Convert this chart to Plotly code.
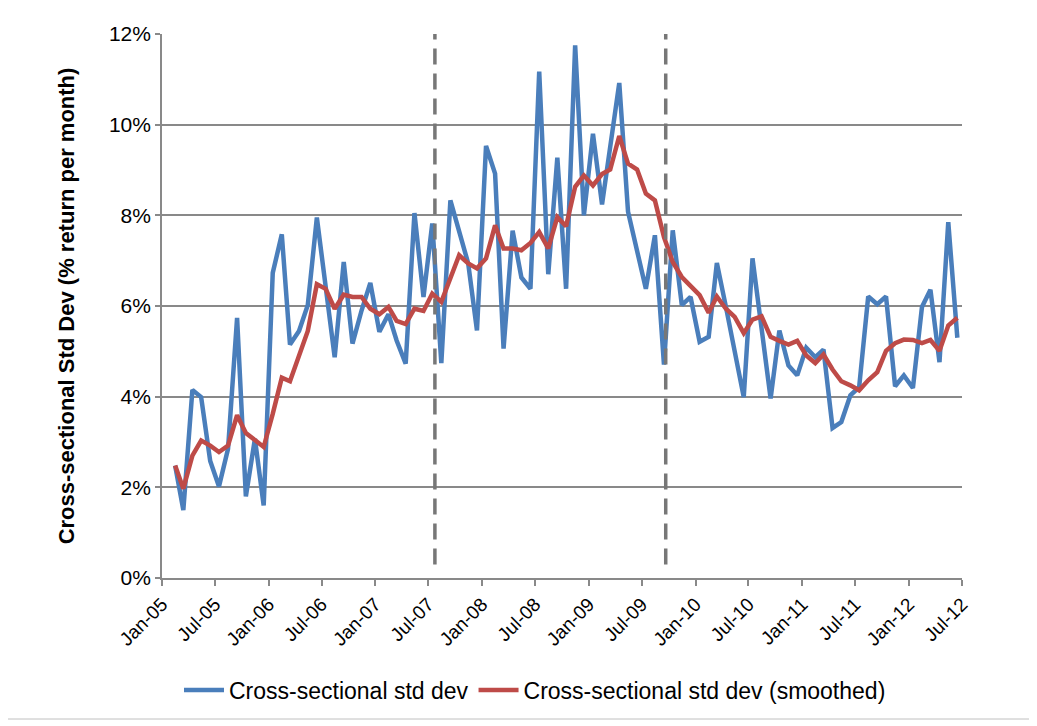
import pandas as pd
import plotly.graph_objects as go

# Monthly observations, Feb-2005 .. Jun-2012 (plotted at mid-month)
months = [d + pd.Timedelta(days=14) for d in pd.date_range("2005-02-01", periods=89, freq="MS")]

std_dev = [
    2.48, 1.50, 4.15, 3.99, 2.58, 2.02, 2.85, 5.74, 1.80, 3.07, 1.60,
    6.73, 7.58, 5.15, 5.45, 6.02, 7.95, 6.40, 4.87, 6.97, 5.17, 5.90, 6.51,
    5.43, 5.82, 5.24, 4.73, 8.05, 6.20, 7.82, 4.74, 8.33, 7.67, 6.94, 5.46,
    9.53, 8.92, 5.06, 7.66, 6.63, 6.38, 11.17, 6.70, 9.27, 6.38, 11.75, 8.00,
    9.80, 8.24, 9.60, 10.92, 8.08, 7.23, 6.38, 7.56, 4.71, 7.67, 6.02, 6.20,
    5.21, 5.32, 6.95, 5.98, 4.98, 3.99, 7.05, 5.55, 3.96, 5.46, 4.69, 4.47,
    5.08, 4.87, 5.04, 3.31, 3.44, 4.03, 4.21, 6.21, 6.04, 6.21, 4.23, 4.47,
    4.19, 5.98, 6.36, 4.76, 7.85, 5.30,
]

std_dev_smoothed = [
    2.48, 1.97, 2.70, 3.03, 2.92, 2.78, 2.92, 3.59, 3.20, 3.03, 2.89,
    3.62, 4.42, 4.34, 4.90, 5.45, 6.48, 6.38, 5.94, 6.25, 6.20, 6.20, 5.94,
    5.82, 5.98, 5.67, 5.60, 5.94, 5.89, 6.27, 6.09, 6.60, 7.12, 6.94, 6.83,
    7.05, 7.78, 7.27, 7.27, 7.23, 7.39, 7.63, 7.27, 7.96, 7.76, 8.63, 8.88,
    8.66, 8.91, 9.01, 9.75, 9.14, 9.01, 8.48, 8.33, 7.52, 6.97, 6.64, 6.44,
    6.24, 5.85, 6.21, 5.94, 5.76, 5.40, 5.70, 5.77, 5.32, 5.23, 5.15, 5.23,
    4.91, 4.74, 4.93, 4.60, 4.34, 4.25, 4.14, 4.36, 4.54, 5.01, 5.18, 5.26,
    5.25, 5.18, 5.25, 5.01, 5.57, 5.74,
]

event_dates = ["2007-07-24", "2009-09-21"]
y_ticks = [0, 2, 4, 6, 8, 10, 12]
y_tick_labels = ["0%", "2%", "4%", "6%", "8%", "10%", "12%"]

FONT = "Liberation Sans, Arial, sans-serif"
GRID = "#898989"

# page body has an 8px margin: figure is 1029x718 placed at (8,8)
W, H = 1029, 718
ML, MR, MT, MB = 154, 75, 26, 148
PW, PH = W - ML - MR, H - MT - MB

fig = go.Figure()
fig.add_trace(go.Scatter(
    x=months, y=std_dev, mode="lines", name="Cross-sectional std dev",
    line=dict(color="#4A7EBB", width=4.5),
))
fig.add_trace(go.Scatter(
    x=months, y=std_dev_smoothed, mode="lines", name="Cross-sectional std dev (smoothed)",
    line=dict(color="#BE4B48", width=4.5),
))

for d in event_dates:
    fig.add_shape(type="line", xref="x", yref="paper", x0=d, x1=d, y0=0.025, y1=1.0,
                  line=dict(color="#777777", width=3.5, dash="16px,9px"), layer="above")

# outer chart border (page coords converted to paper coords)
def px(xp):
    return (xp - 8 - ML) / PW

def py(yp):
    return (H - MB - (yp - 8)) / PH

fig.add_shape(type="rect", xref="paper", yref="paper",
              x0=px(7.5), x1=px(1030), y0=py(719), y1=py(-5),
              line=dict(color="#c0c0c0", width=1), fillcolor="rgba(0,0,0,0)", layer="below")

fig.update_layout(
    width=W, height=H,
    margin=dict(l=ML, r=MR, t=MT, b=MB),
    paper_bgcolor="white", plot_bgcolor="white",
    font=dict(family=FONT, size=20, color="black"),
    showlegend=True,
    legend=dict(orientation="h", x=px(535), xanchor="center", y=py(690), yanchor="middle",
                font=dict(size=23), itemwidth=40, tracegroupgap=0),
    xaxis=dict(
        type="date", range=["2005-01-01", "2012-07-01"],
        tick0="2005-01-01", dtick="M6", tickformat="%b-%y", tickangle=-45,
        showgrid=False, showline=True, linecolor=GRID, linewidth=1.7,
        ticks="outside", ticklen=6, tickcolor=GRID, tickwidth=1.7,
        tickfont=dict(size=19), zeroline=False,
    ),
    yaxis=dict(
        range=[0, 12], tickvals=y_ticks, ticktext=y_tick_labels,
        showgrid=True, gridcolor=GRID, gridwidth=1.7,
        showline=True, linecolor=GRID, linewidth=1.7,
        ticks="outside", ticklen=5, tickcolor=GRID, tickwidth=1.7,
        tickfont=dict(size=21), zeroline=False,
        title=dict(text="<b>Cross-sectional Std Dev (% return per month)</b>",
                   font=dict(size=22), standoff=28),
    ),
)

fig.write_html("out.html")
